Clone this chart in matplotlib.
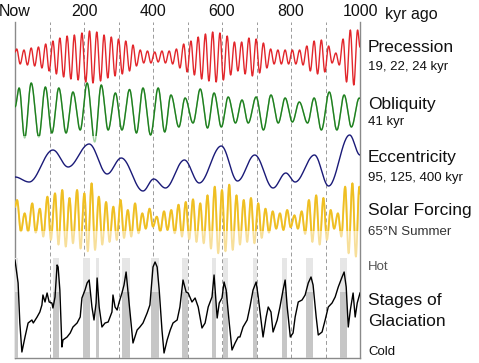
import numpy as np
import matplotlib
matplotlib.use('Agg')
import matplotlib.pyplot as plt
from matplotlib.patches import Rectangle

plt.rcParams['font.family'] = ['Liberation Sans', 'DejaVu Sans']

# ---------------- data (kyr ago) ----------------
tick_values = [0, 200, 400, 600, 800, 1000]
tick_labels = ["Now", "200", "400", "600", "800", "1000"]

# Precession index (x1000), extrema
prec_t = [0, 5, 15, 26, 36, 47, 57, 68, 78, 89, 99, 110, 120, 130, 141, 151, 162, 172, 183, 194,
          205, 216, 226, 237, 248, 258, 269, 279, 290, 300, 311, 321, 332, 342, 352, 363, 373, 384,
          394, 405, 415, 426, 436, 447, 457, 468, 478, 489, 499, 510, 520, 531, 541, 552, 562, 573,
          583, 594, 604, 615, 625, 636, 646, 657, 667, 678, 688, 699, 709, 720, 730, 741, 751, 762,
          772, 783, 793, 804, 814, 825, 835, 846, 856, 867, 877, 888, 898, 909, 919, 930, 940, 951,
          961, 972, 982, 993, 1000]
prec_v = [10, 16, -14, 14, -16, 18, -18, 20, -22, 26, -28, 32, -34, 38, -40, 42, -44, 44, -46, 48,
          -50, 52, -52, 50, -48, 44, -42, 40, -38, 36, -34, 32, -28, 24, -18, 14, -12, 12,
          -12, 10, -10, 12, -12, 12, -14, 16, -22, 26, -30, 32, -36, 40, -44, 46, -48, 50,
          -50, 48, -46, 42, -36, 30, -28, 30, -34, 38, -38, 36, -32, 28, -22, 16, -14, 14,
          -14, 14, -14, 14, -14, 14, -16, 22, -28, 32, -34, 34, -30, 22, -12, 8, -16, 36,
          -50, 54, -56, 54, 20]

# Obliquity (degrees), extrema
obl_t = [0, 12, 28, 47, 69, 88, 107, 127, 148, 168, 189, 209, 231, 250, 270, 291, 310, 332, 352,
         371, 393, 415, 434, 452, 475, 493, 516, 537, 558, 577, 598, 618, 639, 658, 676, 699, 720,
         742, 763, 783, 804, 824, 848, 867, 888, 911, 933, 954, 975, 998, 1000]
obl_v = [23.52, 24.28, 22.28, 24.48, 22.32, 24.32, 22.48, 24.28, 22.48, 24.12, 22.60, 24.48, 22.12,
         24.40, 22.60, 24.08, 22.60, 24.22, 22.48, 24.28, 22.40, 24.28, 22.52, 24.00, 22.72, 23.88,
         22.88, 24.24, 22.68, 24.08, 22.72, 23.92, 22.88, 23.80, 22.88, 23.92, 22.60, 24.00, 22.88,
         23.88, 22.92, 23.72, 22.88, 23.88, 22.60, 24.12, 22.60, 24.00, 22.72, 23.88, 23.86]

# Eccentricity, extrema
ecc_t = [0, 41, 110, 154, 215, 267, 308, 371, 402, 436, 491, 534, 598, 645, 695, 748, 785, 812,
         868, 909, 970, 1000]
ecc_v = [0.0176, 0.0131, 0.0419, 0.0266, 0.0473, 0.0203, 0.0347, 0.0050, 0.0158, 0.0077, 0.0329,
         0.0122, 0.0455, 0.0140, 0.0374, 0.0077, 0.0212, 0.0131, 0.0374, 0.0095, 0.0554, 0.0374]

# Solar forcing, 65N summer insolation (W/m2), extrema
sol_t = [0, 6, 17, 28, 38, 50, 60, 72, 82, 94, 104, 116, 126, 137, 147, 158, 168, 180, 190, 201,
         211, 222, 232, 243, 253, 264, 274, 285, 295, 306, 316, 327, 337, 348, 358, 369, 379, 390,
         400, 411, 421, 432, 442, 453, 463, 474, 484, 495, 505, 516, 526, 537, 547, 558, 568, 579,
         589, 600, 610, 621, 631, 642, 652, 663, 673, 684, 694, 705, 715, 726, 736, 747, 757, 768,
         778, 789, 799, 810, 820, 831, 841, 852, 862, 873, 883, 894, 904, 915, 925, 936, 946, 957,
         967, 978, 988, 998, 1000]
sol_v = [515, 525, 478, 505, 478, 520, 476, 512, 470, 530, 465, 535, 458, 540, 455, 528, 460, 540,
         452, 535, 448, 550, 450, 530, 458, 522, 462, 515, 465, 525, 468, 510, 470, 520, 475, 505,
         482, 512, 485, 500, 478, 508, 480, 510, 475, 518, 470, 522, 466, 526, 462, 520, 460, 532,
         452, 545, 445, 540, 448, 548, 450, 532, 458, 525, 462, 528, 460, 520, 468, 512, 476, 508,
         482, 505, 480, 510, 484, 502, 482, 508, 474, 525, 462, 532, 458, 528, 465, 510, 482, 505,
         470, 545, 445, 550, 440, 545, 535]

# Glaciation (ice index: 0 = hot, 100 = cold)
glac_t = [0, 9, 14, 20, 29, 38, 49, 53, 64, 72, 78, 81, 87, 93, 99, 107, 110, 116, 122, 125, 130,
          136, 139, 151, 160, 168, 180, 189, 194, 203, 209, 215, 223, 229, 235, 238, 244, 252, 261,
          270, 281, 284, 290, 296, 302, 310, 316, 322, 328, 336, 342, 354, 362, 371, 383, 391, 400,
          406, 412, 418, 426, 432, 441, 450, 458, 470, 478, 487, 496, 502, 513, 522, 531, 542, 551,
          560, 571, 577, 586, 592, 600, 606, 612, 621, 629, 638, 647, 652, 661, 673, 681, 690, 699,
          705, 713, 719, 728, 734, 742, 748, 760, 768, 777, 783, 789, 798, 806, 812, 821, 832, 841,
          850, 858, 864, 873, 879, 890, 899, 908, 919, 928, 937, 948, 954, 960, 966, 972, 980, 986,
          992, 1000]
glac_v = [2, 25, 65, 94, 79, 65, 62, 65, 59, 54, 47, 37, 44, 35, 44, 45, 50, 39, 7, 9, 32,
          89, 82, 79, 75, 69, 65, 59, 40, 32, 25, 22, 49, 62, 45, 20, 49, 69, 65,
          64, 54, 37, 49, 52, 44, 35, 27, 14, 35, 62, 85, 72, 69, 65, 55, 47, 9,
          4, 9, 32, 72, 95, 82, 72, 65, 62, 49, 22, 34, 35, 44, 40, 49, 70, 65,
          49, 39, 17, 60, 45, 40, 24, 32, 65, 92, 85, 79, 79, 69, 62, 49, 32, 24,
          39, 62, 79, 59, 49, 54, 74, 62, 49, 32, 22, 49, 79, 75, 59, 44, 42, 37,
          25, 19, 27, 59, 77, 74, 62, 49, 45, 39, 29, 19, 14, 29, 69, 52, 35, 59,
          45, 35]

# Interglacial intervals (kyr ago)
ig_start = [0, 110, 197, 235, 310, 394, 484, 571, 603, 690, 774, 843, 942]
ig_end = [9, 128, 217, 243, 333, 417, 501, 583, 617, 701, 788, 864, 962]


def smooth(t, v, per=14):
    t = np.asarray(t, float)
    v = np.asarray(v, float)
    xs, ys = [], []
    s = np.linspace(0, 1, per, endpoint=False)
    w = (1 - np.cos(np.pi * s)) / 2
    for i in range(len(t) - 1):
        xs.append(t[i] + (t[i + 1] - t[i]) * s)
        ys.append(v[i] + (v[i + 1] - v[i]) * w)
    xs.append([t[-1]])
    ys.append([v[-1]])
    return np.concatenate(xs), np.concatenate(ys)


# ---------------- layout ----------------
W, H = 479, 363
L, R, T, B = 15, 360, 22, 358
fig = plt.figure(figsize=(W / 100, H / 100), dpi=100)
rect = [L / W, 1 - B / H, (R - L) / W, (B - T) / H]
ax = fig.add_axes(rect, label='frame')
ax.set_xlim(0, 1000)
ax.set_ylim(B, T)
ax.set_facecolor('none')
for s in ['left', 'right', 'bottom']:
    ax.spines[s].set_color('#8a8a8a')
    ax.spines[s].set_linewidth(1.0)
ax.spines['top'].set_visible(False)
ax.set_yticks([])
ax.xaxis.tick_top()
ax.set_xticks(tick_values)
ax.set_xticklabels(tick_labels, fontsize=11.5, color='#111111')
ax.tick_params(axis='x', length=0, pad=2)
for xv in range(100, 1000, 100):
    ax.axvline(xv, color='#9a9a9a', lw=0.7, ls=(0, (4, 3)), zorder=0)
fig.text(385 / W, 1 - 14 / H, 'kyr ago', fontsize=11.5, va='center', ha='left', color='#111111')


def overlay(name, va, ya, vb, yb):
    a = fig.add_axes(rect, label=name)
    k = (vb - va) / (yb - ya)
    a.set_ylim(va + (B - ya) * k, va + (T - ya) * k)
    a.set_xlim(0, 1000)
    a.axis('off')
    a.patch.set_visible(False)
    return a


def band(y1, y2):
    return Rectangle((0, y1), 1000, y2 - y1, transform=ax.transData)


# glaciation panel
ag = overlay('glac', 0, 258, 100, 358)
for a0, a1 in zip(ig_start, ig_end):
    ag.add_patch(Rectangle((a0, 0), a1 - a0, 34, facecolor='#e6e6e6', edgecolor='none', zorder=1))
    ag.add_patch(Rectangle((a0, 34), a1 - a0, 66, facecolor='#c6c6c6', edgecolor='none', zorder=1))
ag.plot(glac_t, glac_v, color='black', lw=1.0, zorder=3)

# solar forcing
asol = overlay('sol', 480, 230, 450, 250)
x, y = smooth(sol_t, sol_v)
asol.plot(x, y, color='#f7df9a', lw=1.3, zorder=2)
ln, = asol.plot(x, y, color='#efbf22', lw=1.3, zorder=3)
ln.set_clip_path(band(T, 231))

# eccentricity
aecc = overlay('ecc', 0.005, 191, 0.0239, 170)
x, y = smooth(ecc_t, ecc_v, per=30)
aecc.plot(x, y, color='#1a1a78', lw=1.0, zorder=3)

# obliquity
aobl = overlay('obl', 23.3, 112.5, 22.5, 132.5)
x, y = smooth(obl_t, obl_v, per=20)
aobl.plot(x, y, color='#9fd19f', lw=1.0, zorder=2)
ln, = aobl.plot(x, y, color='#1f7f1f', lw=1.0, zorder=3)
ln.set_clip_path(band(T, 136))

# precession
apr = overlay('prec', 0, 57, -40, 77)
x, y = smooth(prec_t, prec_v)
apr.plot(x, y, color='#e2262b', lw=1.0, zorder=3)

# right-hand labels
def lab(y, txt, size, color='#111111'):
    fig.text(368 / W, 1 - y / H, txt, fontsize=size, va='center', ha='left', color=color)

lab(47, 'Precession', 12.5)
lab(67, '19, 22, 24 kyr', 9.5)
lab(104, 'Obliquity', 12.5)
lab(122, '41 kyr', 9.5)
lab(158, 'Eccentricity', 12.5)
lab(178, '95, 125, 400 kyr', 9.5)
lab(211, 'Solar Forcing', 12.5)
lab(232, '65°N Summer', 9.5, '#333333')
lab(267, 'Hot', 9.5, '#555555')
lab(300, 'Stages of', 12.5)
lab(321, 'Glaciation', 12.5)
lab(352, 'Cold', 9.5)

fig.savefig('out.png', dpi=100)
